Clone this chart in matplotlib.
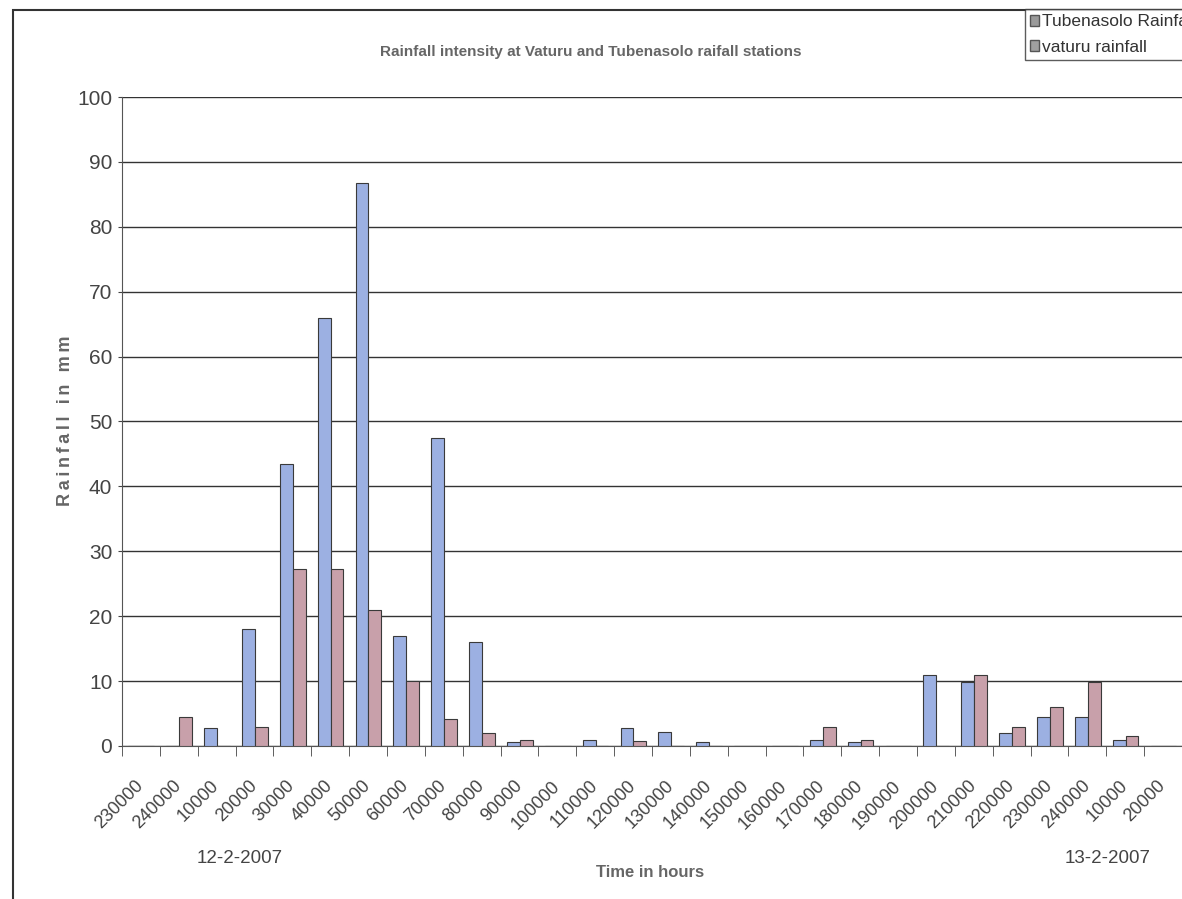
import matplotlib.pyplot as plt
from matplotlib.patches import Rectangle, Patch
import numpy as np

# Hourly rainfall (mm) at the two stations, 12-2-2007 to 13-2-2007
times = ['230000', '240000', '10000', '20000', '30000', '40000', '50000',
         '60000', '70000', '80000', '90000', '100000', '110000', '120000',
         '130000', '140000', '150000', '160000', '170000', '180000',
         '190000', '200000', '210000', '220000', '230000', '240000',
         '10000', '20000']
tubenasolo = [0, 0, 2.8, 18, 43.5, 66, 86.7, 17, 47.5, 16, 0.6, 0, 0.9, 2.7,
              2.2, 0.6, 0, 0, 1.0, 0.6, 0, 11, 9.8, 2.0, 4.4, 4.4, 1.0, 0]
vaturu = [0, 4.5, 0, 3, 27.2, 27.2, 21, 10, 4.2, 2, 1.0, 0, 0, 0.7,
          0, 0, 0, 0, 3.0, 0.9, 0, 0, 11, 3.0, 6.0, 9.8, 1.5, 0]

plt.rcParams['font.family'] = ['Liberation Sans', 'DejaVu Sans']

fig = plt.figure(figsize=(11.82, 8.99), dpi=100)
ax = fig.add_axes([0.1032, 0.1702, 0.8968, 0.7219])

x = np.arange(len(times))
w = 0.34
ax.bar(x - 0.16, tubenasolo, w, color='#9cb0e2', edgecolor='#3a3a3a', linewidth=0.8, zorder=3)
ax.bar(x + 0.18, vaturu, w, color='#c8a0aa', edgecolor='#3a3a3a', linewidth=0.8, zorder=3)

ax.set_xlim(-0.5, len(times) - 0.5)
ax.set_ylim(0, 100)
ax.set_yticks(range(0, 101, 10))
ax.yaxis.grid(True, color='#333333', linewidth=1.0, zorder=0)
ax.set_axisbelow(True)
for s in ['top', 'right']:
    ax.spines[s].set_visible(False)
ax.spines['left'].set_color('#555555')
ax.spines['bottom'].set_color('#555555')

ax.set_xticks(x)
ax.set_xticklabels(times, rotation=45, ha='right', va='center', rotation_mode='anchor',
                   fontsize=13, color='#444444')
ax.set_xticks(np.arange(-0.5, len(times), 1), minor=True)
ax.tick_params(axis='x', which='major', length=0, pad=27)
ax.tick_params(axis='x', which='minor', length=7, color='#444444', direction='out')
ax.tick_params(axis='y', labelsize=15, colors='#444444', length=3, pad=4)

fig.text(0.5, 0.942, 'Rainfall intensity at Vaturu and Tubenasolo raifall stations',
         ha='center', va='center', fontsize=11, fontweight='bold', color='#666666')
fig.text(0.055, 0.532, '\u2009'.join('Rainfall in mm'), rotation=90, ha='center', va='center',
         fontsize=13, fontweight='bold', color='#666666')
fig.text(0.55, 0.030, 'Time in hours', ha='center', va='center',
         fontsize=12, fontweight='bold', color='#666666')
fig.text(0.203, 0.0456, '12-2-2007', ha='center', va='center', fontsize=13.5, color='#444444')
fig.text(0.937, 0.0456, '13-2-2007', ha='center', va='center', fontsize=13.5, color='#444444')

# outer chart border
fig.patches.append(Rectangle((13 / 1182, -0.05), 1.1, 1 - 10 / 899 + 0.05,
                             transform=fig.transFigure, fill=False,
                             edgecolor='#333333', linewidth=1.5))

handles = [Patch(facecolor='#9a9a9a', edgecolor='#555555', label='Tubenasolo Rainfal'),
           Patch(facecolor='#a0a0a0', edgecolor='#555555', label='vaturu rainfall')]
leg = fig.legend(handles=handles, loc='upper left', bbox_to_anchor=(1025 / 1182, 1 - 9 / 899),
                 fontsize=12.5, frameon=True, fancybox=False, handlelength=0.5,
                 handleheight=0.6, handletextpad=0.2, borderpad=0.3, labelspacing=0.6,
                 borderaxespad=0)
leg.get_frame().set_edgecolor('#333333')
leg.get_frame().set_linewidth(1.0)
for t in leg.get_texts():
    t.set_color('#333333')

fig.savefig('out.png', dpi=100)
